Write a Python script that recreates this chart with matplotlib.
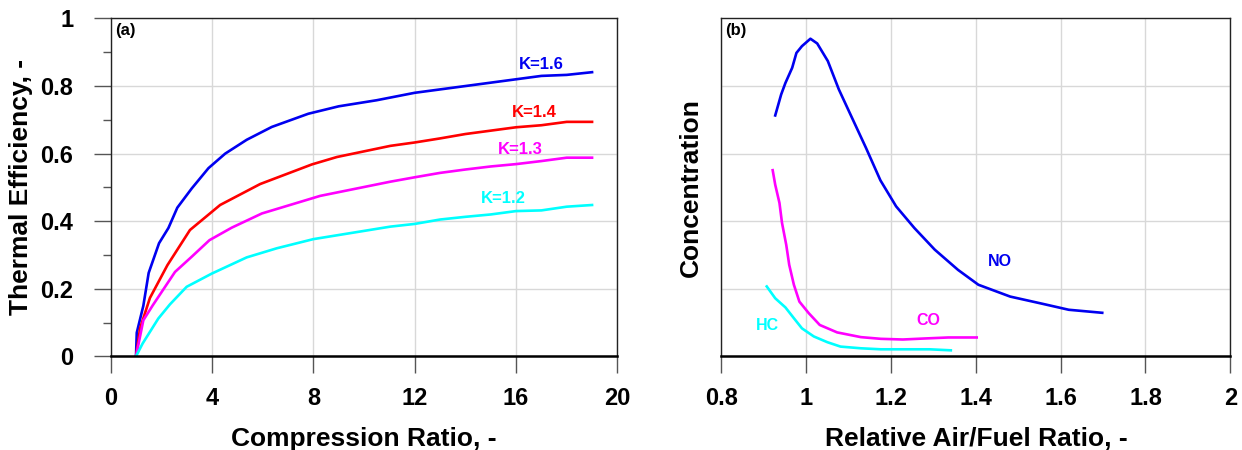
import matplotlib
matplotlib.use("Agg")
import matplotlib.pyplot as plt
from matplotlib.ticker import MultipleLocator

plt.rcParams['font.family'] = ['Liberation Sans', 'DejaVu Sans']
plt.rcParams['font.weight'] = 'bold'

# ---- Panel (a): thermal efficiency vs compression ratio ----
cr_k16 = [1.0, 1.03, 1.29, 1.5, 1.91, 2.28, 2.63, 3.2, 3.86, 4.52, 5.37, 6.36, 7.8, 9.0, 10.5, 12.0, 13.5, 15.0, 16.0, 17.0, 18.0, 19.0]
eff_k16 = [0.0, 0.07, 0.15, 0.247, 0.335, 0.38, 0.44, 0.497, 0.557, 0.6, 0.641, 0.679, 0.718, 0.74, 0.758, 0.78, 0.795, 0.81, 0.82, 0.83, 0.833, 0.841]

cr_k14 = [1.0, 1.16, 1.55, 2.24, 3.13, 4.32, 5.9, 7.94, 8.93, 11.04, 12.0, 13.0, 14.0, 15.0, 16.0, 17.0, 18.0, 19.0]
eff_k14 = [0.0, 0.083, 0.173, 0.27, 0.374, 0.448, 0.51, 0.568, 0.59, 0.623, 0.633, 0.645, 0.658, 0.668, 0.678, 0.684, 0.694, 0.694]

cr_k13 = [1.0, 1.29, 1.66, 2.54, 3.2, 3.9, 4.78, 5.97, 8.27, 11.04, 12.0, 13.0, 14.0, 15.0, 16.0, 17.0, 18.0, 19.0]
eff_k13 = [0.0, 0.107, 0.151, 0.25, 0.295, 0.344, 0.381, 0.423, 0.475, 0.517, 0.53, 0.543, 0.553, 0.562, 0.569, 0.578, 0.588, 0.588]

cr_k12 = [1.0, 1.26, 1.88, 2.34, 3.0, 3.99, 5.37, 6.56, 8.0, 11.04, 12.0, 13.0, 14.0, 15.0, 16.0, 17.0, 18.0, 19.0]
eff_k12 = [0.0, 0.038, 0.112, 0.154, 0.206, 0.245, 0.293, 0.32, 0.347, 0.384, 0.392, 0.405, 0.413, 0.42, 0.43, 0.432, 0.443, 0.448]

k_labels = ["K=1.6", "K=1.4", "K=1.3", "K=1.2"]
k_colors = ["#0000f0", "#ff0000", "#ff00ff", "#00ffff"]
k_label_pos = [(17.0, 0.863), (16.74, 0.722), (16.17, 0.611), (15.49, 0.468)]

# ---- Panel (b): concentration vs relative air/fuel ratio ----
no_lambda = [0.927, 0.941, 0.951, 0.967, 0.977, 0.990, 1.010, 1.026, 1.051, 1.077, 1.101, 1.141, 1.175, 1.212, 1.255, 1.303, 1.358, 1.406, 1.481, 1.556, 1.619, 1.698]
no_conc = [0.713, 0.775, 0.809, 0.854, 0.898, 0.918, 0.940, 0.926, 0.874, 0.790, 0.725, 0.617, 0.521, 0.444, 0.380, 0.316, 0.256, 0.212, 0.177, 0.156, 0.138, 0.129]

co_lambda = [0.921, 0.927, 0.937, 0.943, 0.953, 0.960, 0.971, 0.984, 1.006, 1.032, 1.073, 1.129, 1.176, 1.228, 1.279, 1.335, 1.402]
co_conc = [0.551, 0.508, 0.454, 0.395, 0.330, 0.271, 0.212, 0.162, 0.128, 0.093, 0.071, 0.057, 0.052, 0.050, 0.053, 0.056, 0.056]

hc_lambda = [0.907, 0.927, 0.951, 0.971, 0.990, 1.018, 1.050, 1.081, 1.129, 1.176, 1.240, 1.291, 1.341]
hc_conc = [0.207, 0.172, 0.145, 0.113, 0.083, 0.059, 0.042, 0.029, 0.024, 0.021, 0.021, 0.021, 0.018]

species_labels = ["NO", "CO", "HC"]
species_colors = ["#0000f0", "#ff00ff", "#00ffff"]
species_label_pos = [(1.457, 0.281), (1.289, 0.105), (0.909, 0.090)]

fig = plt.figure(figsize=(12.42, 4.5), dpi=100)
ax1 = fig.add_axes([0.0891, 0.208, 0.4080, 0.751])
ax2 = fig.add_axes([0.5808, 0.208, 0.4098, 0.751])

grid_kw = dict(color="#d8d8d8", linewidth=1.0)
lw = 1.9
label_fs = 19
tick_fs = 17
note_fs = 12

# panel a
for xs, ys, c in zip([cr_k16, cr_k14, cr_k13, cr_k12],
                     [eff_k16, eff_k14, eff_k13, eff_k12], k_colors):
    ax1.plot(xs, ys, color=c, lw=lw, solid_joinstyle='round')
for lab, c, (x, y) in zip(k_labels, k_colors, k_label_pos):
    ax1.text(x, y, lab, color=c, fontsize=note_fs, fontweight='bold', ha='center', va='center')
ax1.set_xlim(0, 20)
ax1.set_ylim(0, 1)
ax1.yaxis.set_minor_locator(MultipleLocator(0.1))
ax1.set_xticks([0, 4, 8, 12, 16, 20])
ax1.set_xticklabels(["0", "4", "8", "12", "16", "20"])
ax1.set_yticks([0, 0.2, 0.4, 0.6, 0.8, 1.0])
ax1.set_yticklabels(["0", "0.2", "0.4", "0.6", "0.8", "1"])
ax1.grid(True, which='major', **grid_kw)
ax1.set_xlabel("Compression Ratio, -", fontsize=label_fs, fontweight='bold', labelpad=12)
ax1.set_ylabel("Thermal Efficiency, -", fontsize=label_fs, fontweight='bold', labelpad=5)
ax1.text(0.008, 0.988, "(a)", transform=ax1.transAxes, fontsize=note_fs, fontweight='bold', ha='left', va='top')

# panel b
for xs, ys, c in zip([no_lambda, co_lambda, hc_lambda], [no_conc, co_conc, hc_conc], species_colors):
    ax2.plot(xs, ys, color=c, lw=lw, solid_joinstyle='round')
for lab, c, (x, y) in zip(species_labels, species_colors, species_label_pos):
    ax2.text(x, y, lab, color=c, fontsize=11.5, fontweight='bold', ha='center', va='center')
ax2.set_xlim(0.8, 2.0)
ax2.set_ylim(0, 1)
ax2.set_xticks([0.8, 1.0, 1.2, 1.4, 1.6, 1.8, 2.0])
ax2.set_xticklabels(["0.8", "1", "1.2", "1.4", "1.6", "1.8", "2"])
ax2.set_yticks([0.2, 0.4, 0.6, 0.8])
ax2.set_yticklabels([])
ax2.grid(True, which='major', **grid_kw)
ax2.set_xlabel("Relative Air/Fuel Ratio, -", fontsize=label_fs, fontweight='bold', labelpad=12)
ax2.set_ylabel("Concentration", fontsize=label_fs, fontweight='bold', labelpad=13)
ax2.text(0.008, 0.988, "(b)", transform=ax2.transAxes, fontsize=note_fs, fontweight='bold', ha='left', va='top')

for ax in (ax1, ax2):
    ax.set_axisbelow(True)
    for s in ('top', 'right', 'left'):
        ax.spines[s].set_linewidth(1.0)
        ax.spines[s].set_color('#222222')
    ax.spines['bottom'].set_linewidth(1.8)
    ax.spines['bottom'].set_color('black')
    ax.tick_params(axis='x', which='major', direction='out', length=12, width=1.0,
                   color='#555555', labelsize=tick_fs, pad=10)
    ax.tick_params(axis='y', which='major', direction='out', length=12, width=1.0,
                   color='#555555', labelsize=tick_fs, pad=15)
    ax.tick_params(axis='y', which='minor', direction='out', length=6, width=1.0, color='#555555')
    for t in ax.get_xticklabels() + ax.get_yticklabels():
        t.set_fontweight('bold')
ax2.tick_params(axis='y', length=0, pad=0)

fig.savefig("out.png", dpi=100)
